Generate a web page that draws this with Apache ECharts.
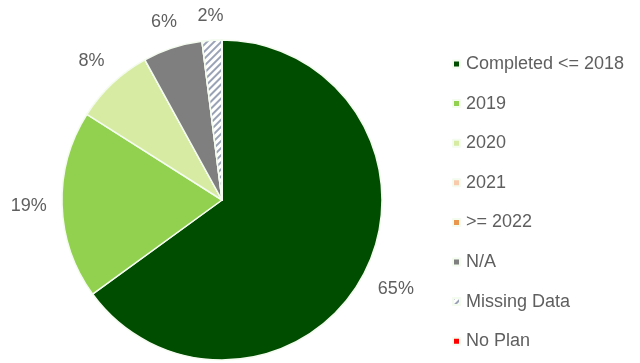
<!DOCTYPE html>
<html>
<head>
<meta charset="utf-8">
<script src="https://cdn.jsdelivr.net/npm/echarts@6/dist/echarts.min.js"></script>
<style>
  html, body { margin: 0; padding: 0; background: #ffffff; }
  #chart { width: 640px; height: 363px; }
</style>
</head>
<body>
<div id="chart"></div>
<script>
// Completion status shares (percent)
const categories = ['Completed <= 2018', '2019', '2020', '2021', '>= 2022', 'N/A', 'Missing Data', 'No Plan'];
const shares = [65, 19, 8, 0, 0, 6, 2, 0];
const colors = ['#004d00', '#92d050', '#d7eca2', '#f8cbad', '#e9964e', '#7f7f7f', '#ffffff', '#ff0000'];

const FONT = 'Liberation Sans, Arial, sans-serif';
const LABEL_GAP = 15;

const hatch = {
  color: '#9aa3b5',
  dashArrayX: [1, 0],
  dashArrayY: [2, 3],
  rotation: -Math.PI / 4
};

const data = categories.map((name, i) => {
  const item = {
    name: name,
    value: shares[i],
    itemStyle: { color: colors[i] }
  };
  if (name === 'Missing Data') item.itemStyle.decal = hatch;
  if (shares[i] === 0) item.label = { show: false };
  return item;
});

// Place each percentage label just beyond the slice edge, pushed out
// along the radial direction by the label box's own extent.
function outsideEnd(params) {
  const pts = params.labelLinePoints;
  if (!pts) return {};
  const p0 = pts[0], p1 = pts[1];
  let dx = p1[0] - p0[0], dy = p1[1] - p0[1];
  const len = Math.hypot(dx, dy) || 1;
  dx /= len; dy /= len;
  const w = params.labelRect.width, h = params.labelRect.height;
  const ext = LABEL_GAP + Math.abs(dx) * w / 2 + Math.abs(dy) * h / 2;
  return {
    x: p0[0] + dx * ext,
    y: p0[1] + dy * ext,
    align: 'center',
    verticalAlign: 'middle'
  };
}

const chart = echarts.init(document.getElementById('chart'), null, { renderer: 'canvas' });
chart.setOption({
  animation: false,
  backgroundColor: '#ffffff',
  legend: {
    orient: 'vertical',
    left: 447,
    top: 50,
    icon: 'rect',
    itemWidth: 7,
    itemHeight: 7,
    itemGap: 21.6,
    textStyle: {
      color: '#5f5f5f',
      fontSize: 18,
      lineHeight: 18,
      padding: [0, 0, 0, 1],
      fontFamily: FONT
    },
    data: categories
  },
  series: [{
    type: 'pie',
    center: [222, 200],
    radius: 160,
    startAngle: 90,
    clockwise: true,
    avoidLabelOverlap: false,
    stillShowZeroSum: false,
    itemStyle: { borderColor: '#f4fbef', borderWidth: 1.5 },
    label: {
      show: true,
      position: 'outside',
      formatter: p => p.value + '%',
      color: '#5f5f5f',
      fontSize: 18,
      fontFamily: FONT
    },
    labelLine: { show: false, length: 10, length2: 0 },
    labelLayout: outsideEnd,
    emphasis: { disabled: true },
    data: data
  }]
});
</script>
</body>
</html>
